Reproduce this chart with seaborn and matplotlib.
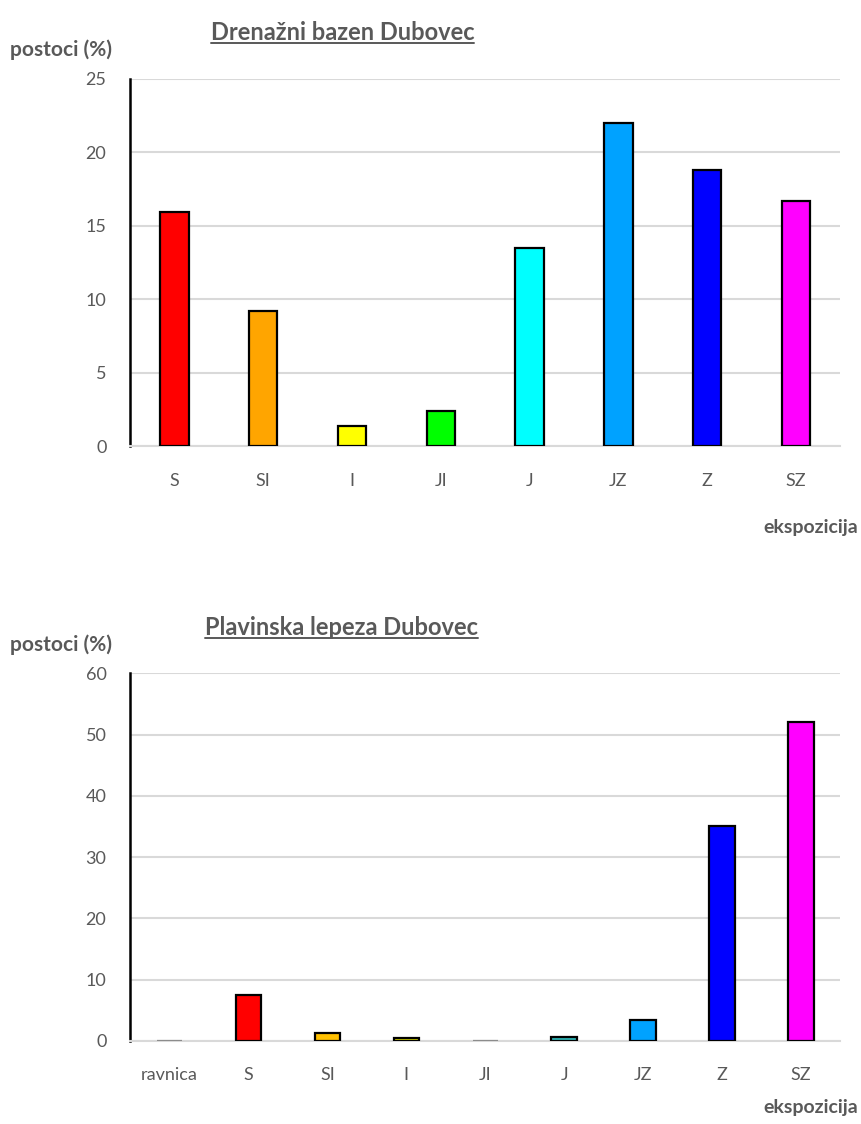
import matplotlib
matplotlib.use("Agg")
import matplotlib.pyplot as plt
import seaborn as sns
import pandas as pd
from matplotlib.lines import Line2D

# data
top_cats = ["S", "SI", "I", "JI", "J", "JZ", "Z", "SZ"]
top_vals = [15.9, 9.2, 1.4, 2.4, 13.5, 22.0, 18.8, 16.7]
top_colors = ["#FF0000", "#FFA500", "#FFFF00", "#00FF00", "#00FFFF", "#00A2FF", "#0000FF", "#FF00FF"]

bot_cats = ["ravnica", "S", "SI", "I", "JI", "J", "JZ", "Z", "SZ"]
bot_vals = [0.05, 7.4, 1.3, 0.5, 0.05, 0.55, 3.4, 35.1, 52.0]
bot_colors = ["#A6A6A6", "#FF0000", "#FFC000", "#D4D400", "#A6A6A6", "#2FB8B8", "#00A2FF", "#0000FF", "#FF00FF"]

sns.set_style("white")
plt.rcParams['font.family'] = ['Lato', 'DejaVu Sans']

TXT = "#595959"
GRID = "#D9D9D9"

fig = plt.figure(figsize=(8.61, 11.24), dpi=100)
ax1 = fig.add_axes([0.151, 0.603, 0.825, 0.327])
ax2 = fig.add_axes([0.151, 0.074, 0.825, 0.327])


def draw(ax, cats, vals, colors, ymax, step):
    df = pd.DataFrame({"cat": cats, "val": vals})
    sns.barplot(data=df, x="cat", y="val", hue="cat", palette=colors, legend=False,
                saturation=1, width=0.32, edgecolor="black", linewidth=1.6, ax=ax, zorder=3)
    # near-zero bars only show as a thin grey line
    for p, v in zip(ax.patches, vals):
        if v < 0.2:
            p.set_edgecolor("#8C8C8C")
    ax.set_xlim(-0.5, len(cats) - 0.5)
    ax.set_ylim(0, ymax)
    ax.set_yticks(range(0, ymax + 1, step))
    ax.yaxis.grid(True, color=GRID, linewidth=1.5, zorder=0)
    ax.set_axisbelow(True)
    ax.set_xlabel("")
    ax.set_ylabel("")
    for s in ["top", "right"]:
        ax.spines[s].set_visible(False)
    ax.spines["left"].set_color("black")
    ax.spines["left"].set_linewidth(1.8)
    ax.spines["bottom"].set_color(GRID)
    ax.spines["bottom"].set_linewidth(1.5)
    ax.tick_params(axis="both", length=0, labelsize=13, labelcolor=TXT)
    ax.tick_params(axis="x", pad=19)
    ax.tick_params(axis="y", pad=17)


draw(ax1, top_cats, top_vals, top_colors, 25, 5)
draw(ax2, bot_cats, bot_vals, bot_colors, 60, 10)

titles = [("Drenažni bazen Dubovec", 0.398, 0.971), ("Plavinska lepeza Dubovec", 0.397, 0.442)]
title_objs = []
for t, x, y in titles:
    title_objs.append(fig.text(x, y, t, ha="center", va="center", fontsize=17,
                               fontweight="bold", color=TXT))

for y in [0.9555, 0.426]:
    fig.text(0.012, y, "postoci (%)", ha="left", va="center", fontsize=15,
             fontweight="bold", color=TXT)
for y in [0.531, 0.015]:
    fig.text(0.997, y, "ekspozicija", ha="right", va="center", fontsize=14,
             fontweight="bold", color=TXT)

# underline the titles
fig.canvas.draw()
r = fig.canvas.get_renderer()
for t in title_objs:
    bb = t.get_window_extent(r).transformed(fig.transFigure.inverted())
    yl = bb.y0 + 0.001
    fig.add_artist(Line2D([bb.x0, bb.x1], [yl, yl], transform=fig.transFigure,
                          color=TXT, linewidth=1.4))

fig.savefig("out.png", dpi=100)
